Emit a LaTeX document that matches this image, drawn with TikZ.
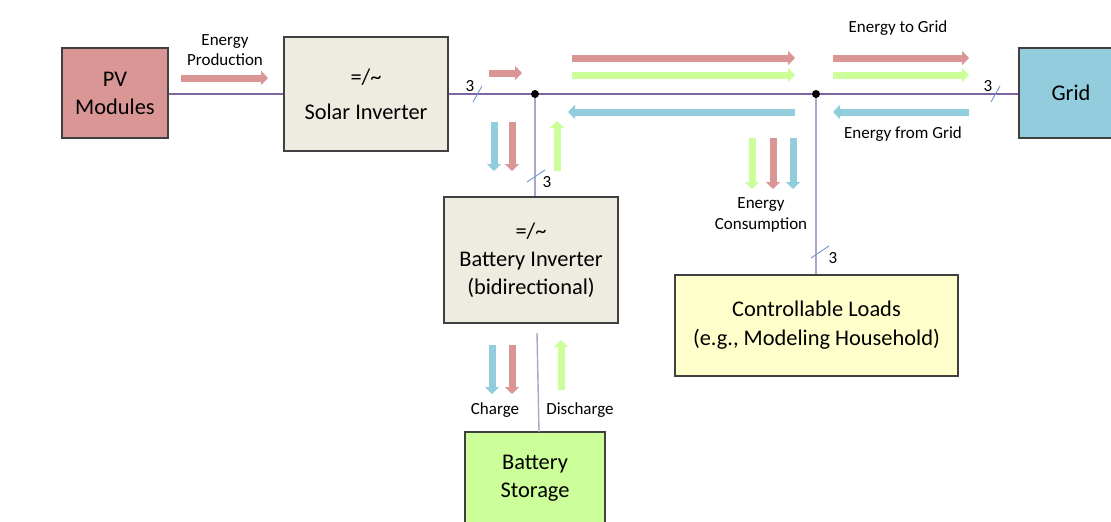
\documentclass[tikz,border=0pt]{standalone}
\usepackage{fontspec}
\setmainfont{Carlito}
\usetikzlibrary{arrows.meta}
\definecolor{pvred}{RGB}{217,150,148}
\definecolor{invgray}{RGB}{238,236,225}
\definecolor{gridblue}{RGB}{147,205,221}
\definecolor{loadyellow}{RGB}{255,255,204}
\definecolor{storgreen}{RGB}{204,255,153}
\definecolor{arred}{RGB}{217,150,148}
\definecolor{argreen}{RGB}{204,255,153}
\definecolor{arblue}{RGB}{146,205,221}
\definecolor{busline}{RGB}{128,100,162}
\definecolor{vline}{RGB}{179,162,199}
\definecolor{tickblue}{RGB}{110,150,210}
\tikzset{
  box/.style={draw=black!75, line width=1.2pt, align=center, font=\fontsize{22.4}{28}\selectfont, inner sep=0pt},
  flow/.style={line width=7pt, -{Triangle[length=7pt,width=14pt]}},
  lbl/.style={font=\fontsize{17}{20.5}\selectfont, align=center, inner sep=0pt},
  bus/.style={draw=busline, line width=1.1pt},
  feeder/.style={draw=vline, line width=1.4pt},
  tick/.style={draw=tickblue, line width=0.9pt},
  num/.style={font=\fontsize{17}{18}\selectfont, inner sep=0pt},
}
\begin{document}
\begin{tikzpicture}[x=1pt,y=-1pt]
\clip (0,0) rectangle (1111,522);
\fill[white] (0,0) rectangle (1111,522);
% boxes
\node[box, fill=pvred, minimum width=106pt, minimum height=90pt] (pv) at (115,93) {PV\\Modules};
\node[box, fill=invgray, minimum width=164pt, minimum height=114pt, font=\fontsize{22.4}{35}\selectfont] (sinv) at (366,94) {=/\char`~\\Solar Inverter};
\node[box, fill=gridblue, minimum width=104pt, minimum height=90pt] (grid) at (1071,93) {Grid};
\node[box, fill=invgray, minimum width=174pt, minimum height=126pt] (binv) at (531,260) {=/\char`~\\Battery Inverter\\(bidirectional)};
\node[box, fill=loadyellow, minimum width=283pt, minimum height=101pt, font=\fontsize{22.4}{29}\selectfont] (loads) at (816.5,325.5) {Controllable Loads\\(e.g., Modeling Household)};
\node[box, fill=storgreen, minimum width=140pt, minimum height=92pt] (stor) at (535,478) {Battery\\Storage};
% bus
\coordinate (j1) at (535,94);
\coordinate (j2) at (816,94);
\draw[bus] (pv.east |- 0,94) -- (sinv.west |- 0,94);
\draw[bus] (sinv.east |- 0,94) -- (grid.west |- 0,94);
\draw[feeder] (j1) -- (j1 |- binv.north);
\draw[feeder] (j2) -- (j2 |- loads.north);
\coordinate (bs) at (537,333);
\draw[feeder] (bs) -- (539,432);
\fill (j1) circle (4pt);
\fill (j2) circle (4pt);
% ticks
\draw[tick] (473,102) -- (482,86);
\node[num] (n1) at (470,86) {3};
\draw[tick] (527,182) -- (545,170);
\node[num] (n2) at (547,182) {3};
\draw[tick] (991,102) -- (1000,86);
\node[num] (n3) at (988,86) {3};
\draw[tick] (811,258) -- (829,246);
\node[num] (n4) at (833,258) {3};
% flow arrows
\draw[flow, arred] (181,78) -- (268,78);
\node[lbl] (lprod) at (225,50) {Energy\\Production};
\draw[flow, arred] (489,73) -- (522,73);
\draw[flow, arred] (572,58) -- (795,58);
\draw[flow, argreen] (572,75) -- (795,75);
\draw[flow, arblue] (795,112) -- (568,112);
\draw[flow, arred] (833,58) -- (969,58);
\draw[flow, argreen] (833,75) -- (969,75);
\draw[flow, arblue] (969,112) -- (833,112);
\node[lbl] (ltogrid) at (898,28) {Energy to Grid};
\node[lbl] (lfromgrid) at (903,134) {Energy from Grid};
% battery inverter top arrows
\draw[flow, arblue] (494,122) -- (494,171);
\draw[flow, arred] (512,122) -- (512,171);
\draw[flow, argreen] (557,171) -- (557,121);
% consumption arrows
\draw[flow, argreen] (752,138) -- (752,189);
\draw[flow, arred] (773,138) -- (773,189);
\draw[flow, arblue] (793,138) -- (793,189);
\node[lbl] (lcons) at (761,215) {Energy\\Consumption};
% charge arrows
\draw[flow, arblue] (492,345) -- (492,394);
\draw[flow, arred] (512,345) -- (512,394);
\draw[flow, argreen] (561,390) -- (561,340);
\node[lbl] (lchg) at (495,410) {Charge};
\node[lbl] (ldis) at (580,410) {Discharge};
\end{tikzpicture}
\end{document}
